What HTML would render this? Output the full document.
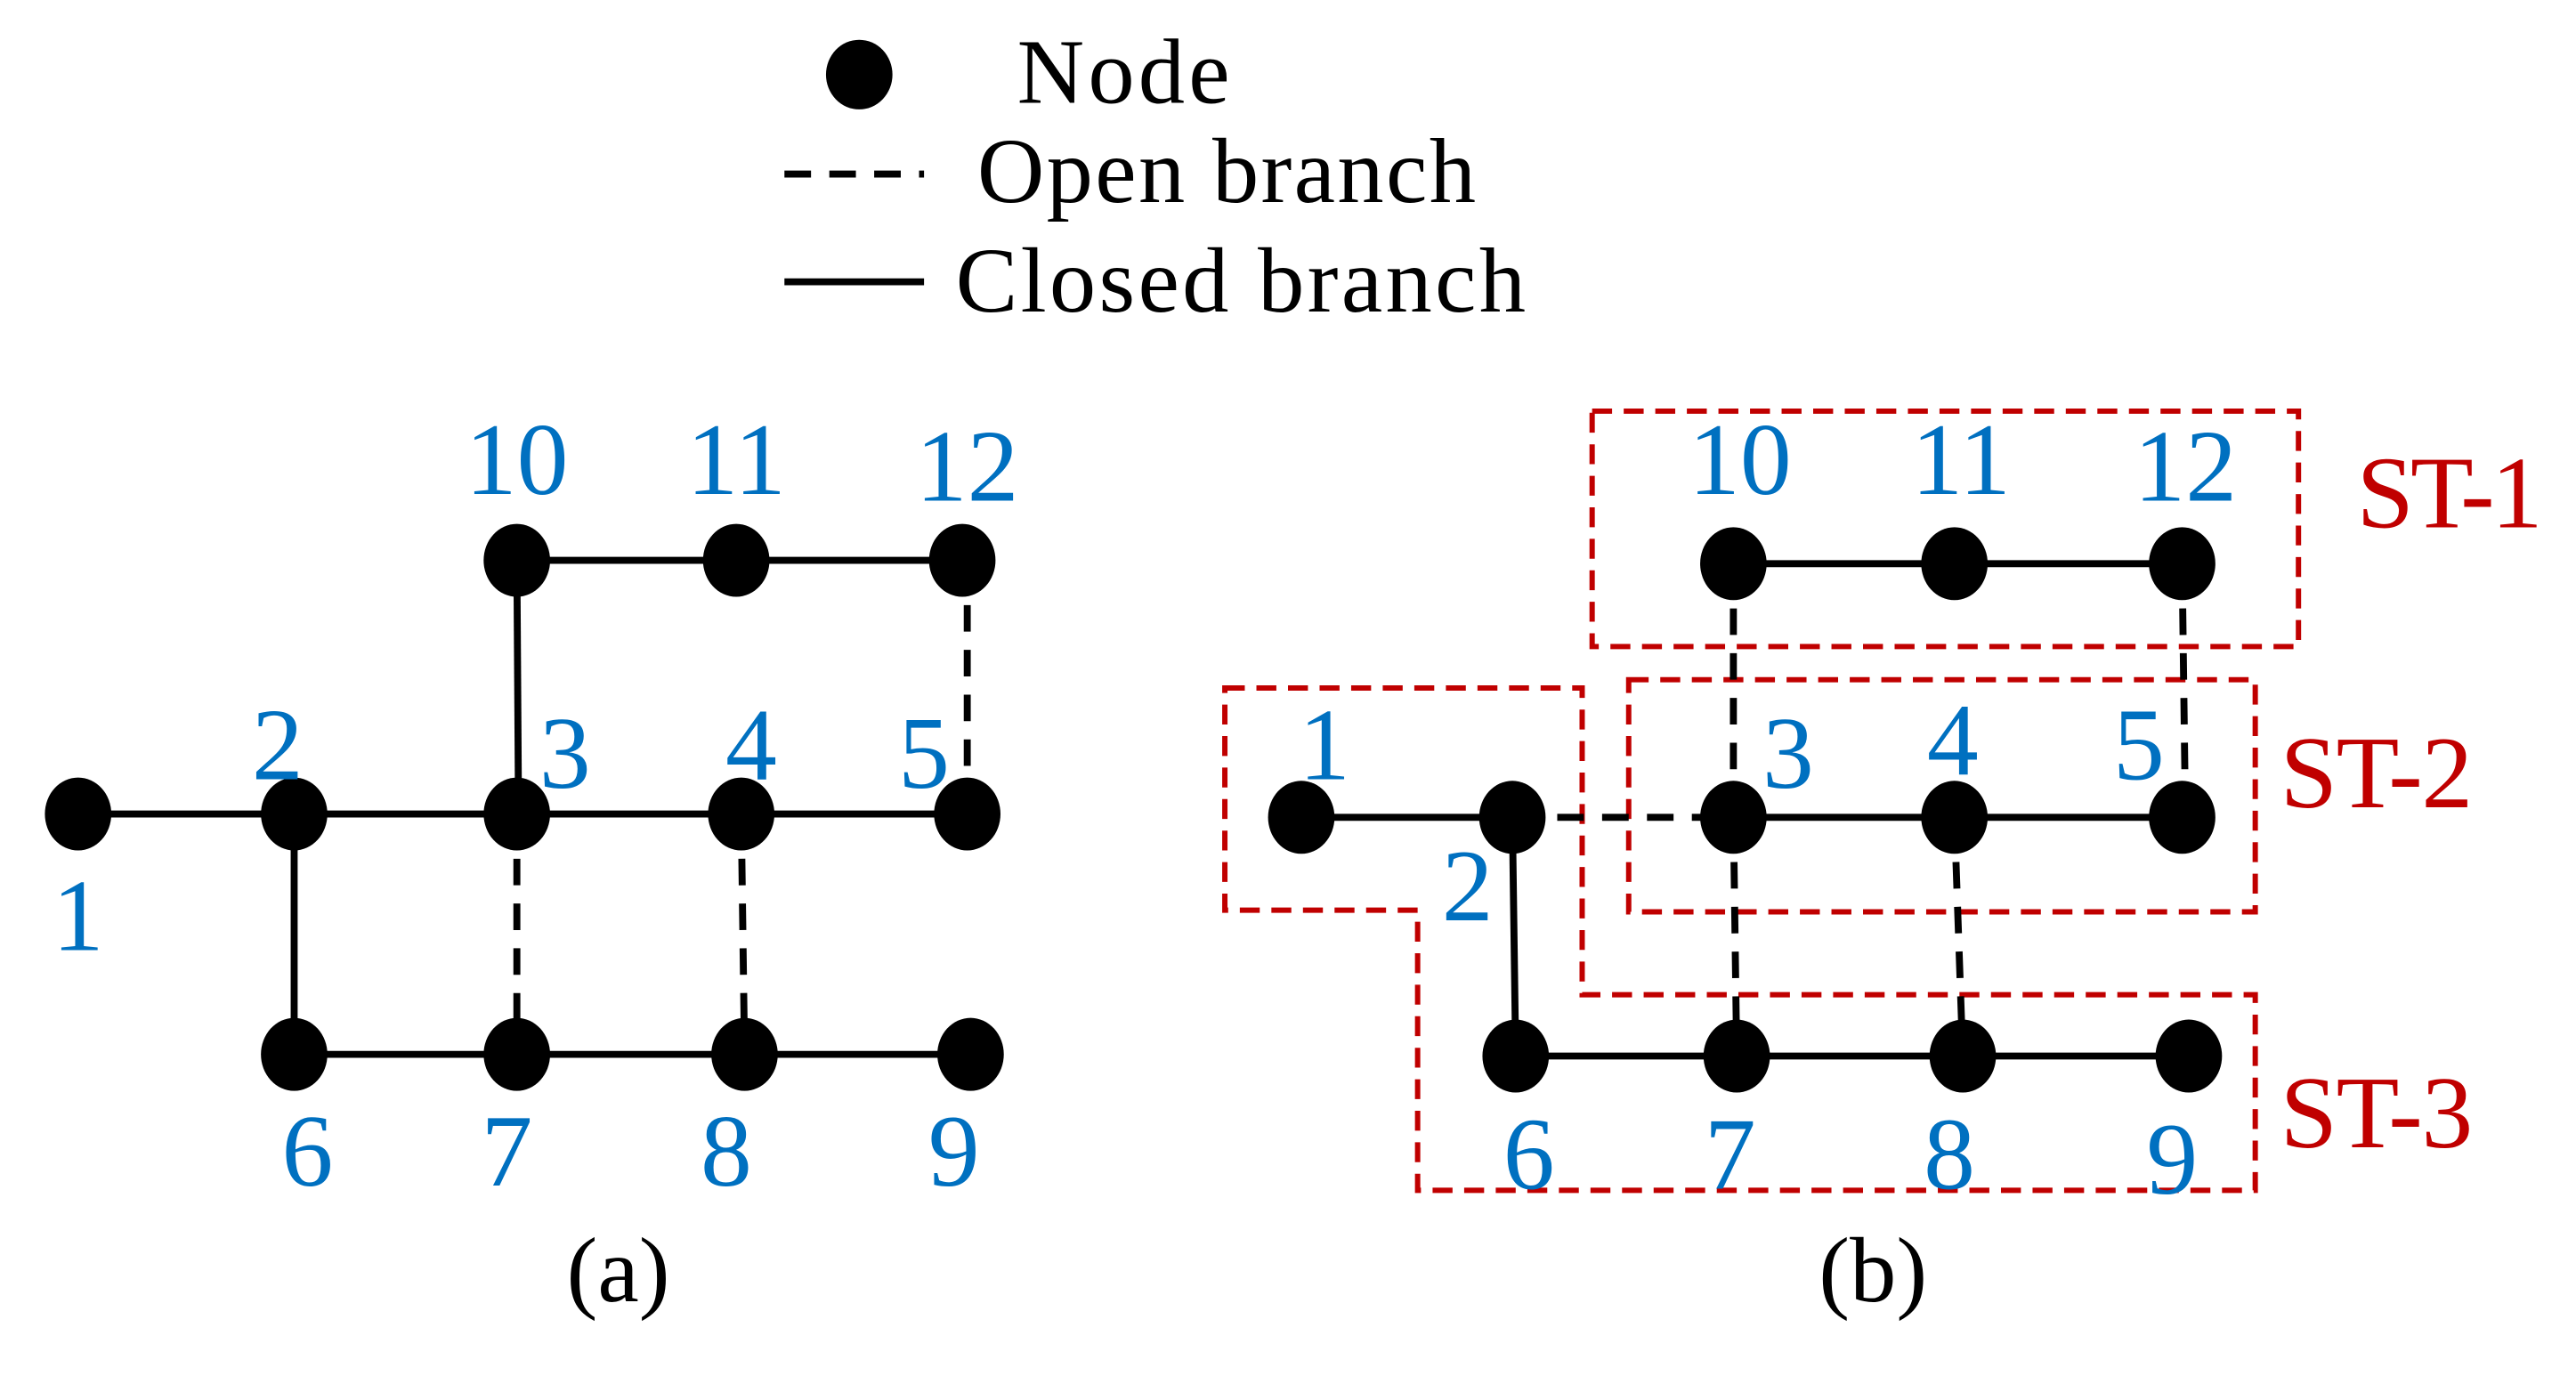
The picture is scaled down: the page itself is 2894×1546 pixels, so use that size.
<!DOCTYPE html>
<html><head><meta charset="utf-8"><style>
html,body{margin:0;padding:0;background:#fff;}
svg{display:block;}
text{font-family:"Liberation Serif",serif;}
.n{fill:#0070c0;font-size:62px;text-anchor:middle;}
.st{fill:#c00000;font-size:62px;}
.s{stroke:#000;stroke-width:4.2;fill:none;}
.d{stroke:#000;stroke-width:4.2;fill:none;stroke-dasharray:16 11;}
.r{stroke:#c00000;stroke-width:3.2;fill:none;stroke-dasharray:12 7;}
</style></head><body>
<svg width="2894" height="1546" viewBox="0 0 1550 830" preserveAspectRatio="none">
<!-- legend -->
<ellipse cx="517" cy="45" rx="20" ry="21" fill="#000"/>
<text x="612" y="62" font-size="56" textLength="128">Node</text>
<line x1="472" y1="105" x2="556" y2="105" class="d" stroke-dasharray="12 9"/>
<text x="588" y="122" font-size="56" textLength="300">Open branch</text>
<line x1="472" y1="170" x2="556" y2="170" class="s"/>
<text x="575" y="188" font-size="56" textLength="343">Closed branch</text>

<!-- (a) -->
<line x1="311" y1="338" x2="579" y2="338" class="s"/>
<line x1="311" y1="338" x2="312" y2="491" class="s"/>
<line x1="582" y1="338" x2="582" y2="491" class="d"/>
<line x1="47" y1="491" x2="582" y2="491" class="s"/>
<line x1="177" y1="491" x2="177" y2="636" class="s"/>
<line x1="311" y1="491" x2="311" y2="636" class="d"/>
<line x1="446" y1="491" x2="448" y2="636" class="d"/>
<line x1="177" y1="636" x2="584" y2="636" class="s"/>
<g fill="#000">
<ellipse cx="311" cy="338" rx="20" ry="22"/><ellipse cx="443" cy="338" rx="20" ry="22"/><ellipse cx="579" cy="338" rx="20" ry="22"/>
<ellipse cx="47" cy="491" rx="20" ry="22"/><ellipse cx="177" cy="491" rx="20" ry="22"/><ellipse cx="311" cy="491" rx="20" ry="22"/><ellipse cx="446" cy="491" rx="20" ry="22"/><ellipse cx="582" cy="491" rx="20" ry="22"/>
<ellipse cx="177" cy="636" rx="20" ry="22"/><ellipse cx="311" cy="636" rx="20" ry="22"/><ellipse cx="448" cy="636" rx="20" ry="22"/><ellipse cx="584" cy="636" rx="20" ry="22"/>
</g>
<text class="n" x="311" y="298">10</text><text class="n" x="443" y="298">11</text><text class="n" x="582" y="302">12</text>
<text class="n" x="167" y="470">2</text><text class="n" x="340" y="475">3</text><text class="n" x="452" y="470">4</text><text class="n" x="556" y="475">5</text>
<text class="n" x="47" y="573">1</text>
<text class="n" x="185" y="715">6</text><text class="n" x="305" y="715">7</text><text class="n" x="437" y="715">8</text><text class="n" x="574" y="715">9</text>
<text x="372" y="785" font-size="56" text-anchor="middle">(a)</text>

<!-- (b) -->
<rect x="958" y="248" width="425" height="142" class="r"/>
<rect x="980" y="410" width="377" height="140" class="r"/>
<polygon points="737,415 952,415 952,600 1357,600 1357,718 853,718 853,549 737,549" class="r"/>

<line x1="1043" y1="340" x2="1313" y2="340" class="s"/>
<line x1="1043" y1="340" x2="1043" y2="493" class="d"/>
<line x1="1313" y1="340" x2="1315" y2="493" class="d"/>
<line x1="783" y1="493" x2="910" y2="493" class="s"/>
<line x1="910" y1="493" x2="1043" y2="493" class="d"/>
<line x1="1043" y1="493" x2="1313" y2="493" class="s"/>
<line x1="910" y1="493" x2="912" y2="637" class="s"/>
<line x1="1043" y1="493" x2="1045" y2="637" class="d"/>
<line x1="1176" y1="493" x2="1181" y2="637" class="d"/>
<line x1="912" y1="637" x2="1317" y2="637" class="s"/>
<g fill="#000">
<ellipse cx="1043" cy="340" rx="20" ry="22"/><ellipse cx="1176" cy="340" rx="20" ry="22"/><ellipse cx="1313" cy="340" rx="20" ry="22"/>
<ellipse cx="783" cy="493" rx="20" ry="22"/><ellipse cx="910" cy="493" rx="20" ry="22"/><ellipse cx="1043" cy="493" rx="20" ry="22"/><ellipse cx="1176" cy="493" rx="20" ry="22"/><ellipse cx="1313" cy="493" rx="20" ry="22"/>
<ellipse cx="912" cy="637" rx="20" ry="22"/><ellipse cx="1045" cy="637" rx="20" ry="22"/><ellipse cx="1181" cy="637" rx="20" ry="22"/><ellipse cx="1317" cy="637" rx="20" ry="22"/>
</g>
<text class="n" x="1047" y="298">10</text><text class="n" x="1180" y="298">11</text><text class="n" x="1315" y="302">12</text>
<text class="n" x="797" y="470">1</text><text class="n" x="883" y="555">2</text><text class="n" x="1076" y="475">3</text><text class="n" x="1175" y="467">4</text><text class="n" x="1287" y="470">5</text>
<text class="n" x="920" y="717">6</text><text class="n" x="1041" y="717">7</text><text class="n" x="1173" y="717">8</text><text class="n" x="1307" y="720">9</text>
<text class="st" x="1418" y="318" textLength="112">ST-1</text>
<text class="st" x="1372" y="487" textLength="116">ST-2</text>
<text class="st" x="1372" y="692" textLength="116">ST-3</text>
<text x="1127" y="785" font-size="56" text-anchor="middle">(b)</text>
</svg>
</body></html>
